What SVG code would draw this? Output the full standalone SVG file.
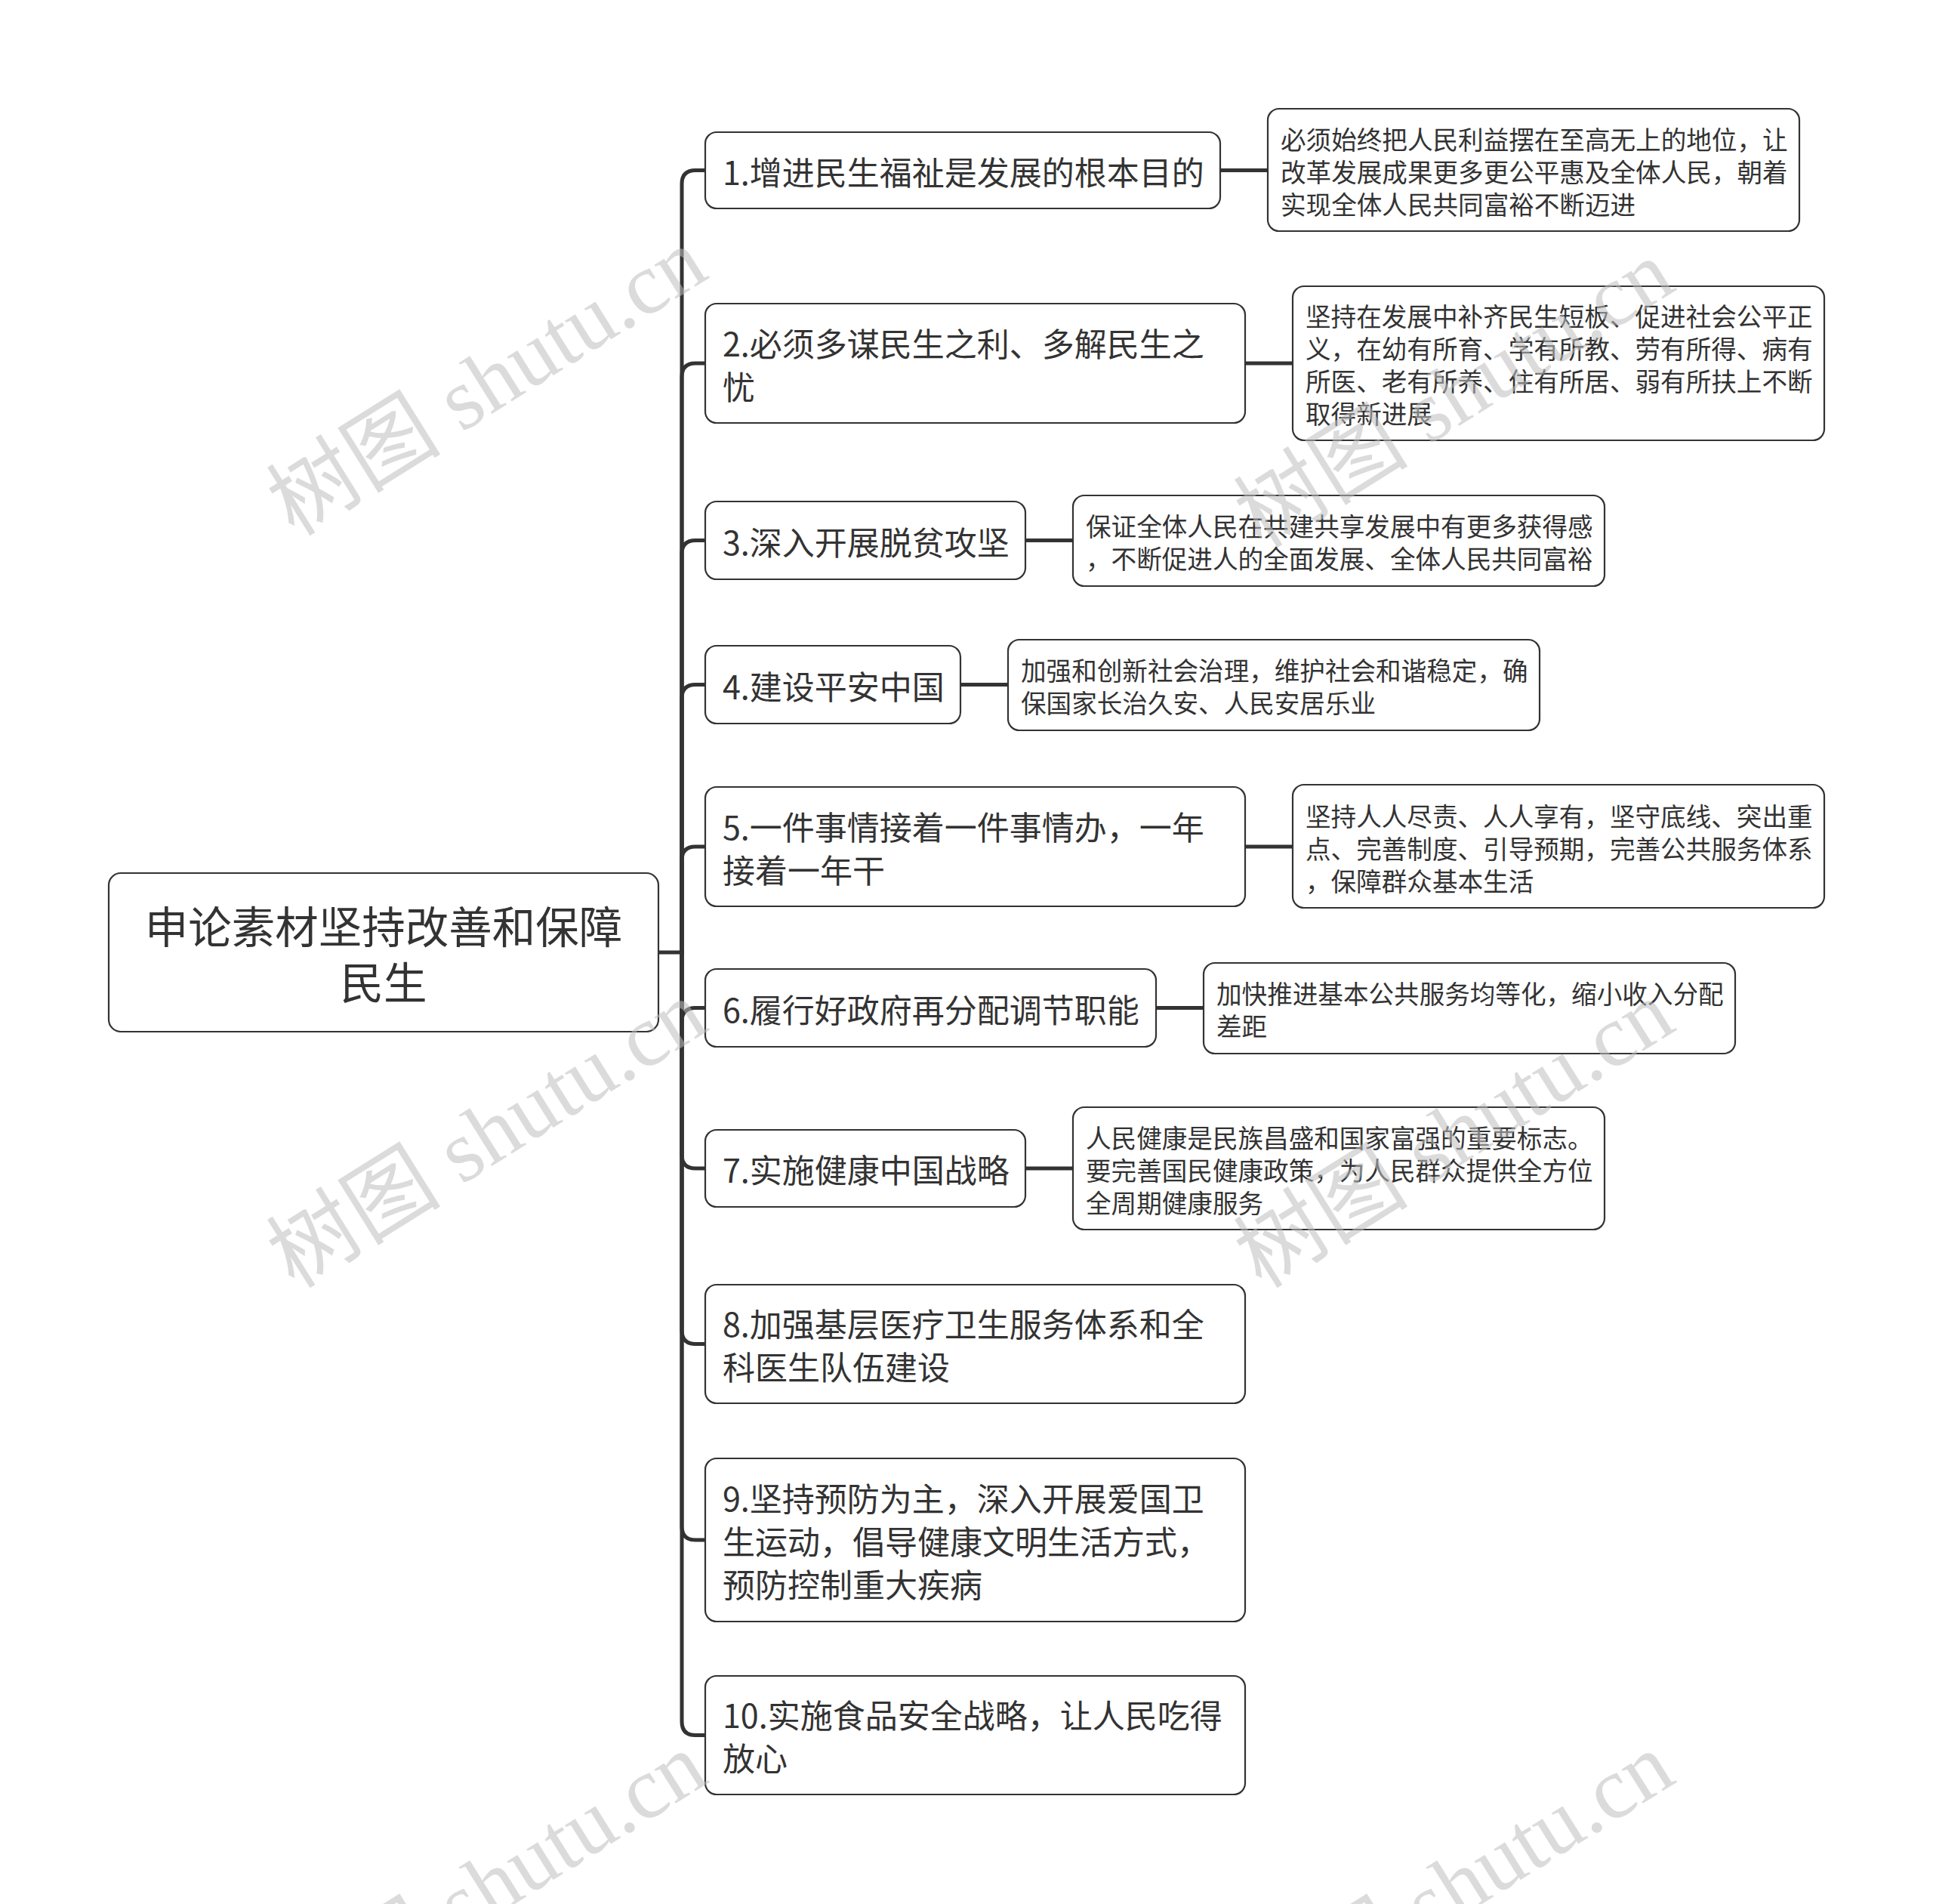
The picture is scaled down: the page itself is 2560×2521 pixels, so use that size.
<svg xmlns="http://www.w3.org/2000/svg" width="2560" height="2521" viewBox="0 0 2560 2521">
<style>
.bg{fill:#ffffff}
.box{fill:#ffffff;stroke:#333333;stroke-width:2.2}
.con{fill:none;stroke:#333333;stroke-width:5;stroke-linecap:round}
text{font-family:"Noto Sans CJK SC","Noto Sans",sans-serif;fill:#333333;dominant-baseline:central}
.root{font-size:57.5px;text-anchor:middle}
.l1{font-size:43px}
.l2{font-size:33.6px}
.wm{font-family:"Liberation Serif","Noto Sans CJK SC",serif;font-size:116px;fill:#bdbdbd;fill-opacity:0.55;text-anchor:middle;dominant-baseline:central}
</style>
<rect class="bg" x="0" y="0" width="2560" height="2521"/>
<g id="connectors">
<path class="con" d="M872 1261 H903"/>
<path class="con" d="M903 1261 V243.5 Q903 225.5 921 225.5 H934"/>
<path class="con" d="M903 1261 V499 Q903 481 921 481 H934"/>
<path class="con" d="M903 1261 V733.5 Q903 715.5 921 715.5 H934"/>
<path class="con" d="M903 1261 V924.5 Q903 906.5 921 906.5 H934"/>
<path class="con" d="M903 1261 V1139 Q903 1121 921 1121 H934"/>
<path class="con" d="M903 1261 V1352.5 Q903 1334.5 921 1334.5 H934"/>
<path class="con" d="M903 1261 V1529 Q903 1547 921 1547 H934"/>
<path class="con" d="M903 1261 V1761.5 Q903 1779.5 921 1779.5 H934"/>
<path class="con" d="M903 1261 V2021 Q903 2039 921 2039 H934"/>
<path class="con" d="M903 1261 V2279.5 Q903 2297.5 921 2297.5 H934"/>
<path class="con" d="M1616 225.5 H1679"/>
<path class="con" d="M1649 481 H1712"/>
<path class="con" d="M1358 715.5 H1421"/>
<path class="con" d="M1272 906.5 H1335"/>
<path class="con" d="M1649 1121 H1712"/>
<path class="con" d="M1531 1334.5 H1594"/>
<path class="con" d="M1358 1547 H1421"/>
</g>
<g id="root">
<rect class="box" x="144" y="1156" width="728" height="210" rx="16"/>
<text class="root" x="508" y="1224">申论素材坚持改善和保障</text>
<text class="root" x="508" y="1298">民生</text>
</g>
<g id="n1">
<rect class="box" x="934" y="175" width="682" height="101" rx="15"/>
<text class="l1" x="957" y="225.5">1.增进民生福祉是发展的根本目的</text>
</g>
<g id="n1a">
<rect class="box" x="1679" y="144" width="704" height="162" rx="15"/>
<text class="l2" x="1696" y="183">必须始终把人民利益摆在至高无上的地位，让</text>
<text class="l2" x="1696" y="226">改革发展成果更多更公平惠及全体人民，朝着</text>
<text class="l2" x="1696" y="269">实现全体人民共同富裕不断迈进</text>
</g>
<g id="n2">
<rect class="box" x="934" y="402" width="715" height="158" rx="15"/>
<text class="l1" x="957" y="453">2.必须多谋民生之利、多解民生之</text>
<text class="l1" x="957" y="510">忧</text>
</g>
<g id="n2a">
<rect class="box" x="1712" y="379" width="704" height="204" rx="15"/>
<text class="l2" x="1729" y="417">坚持在发展中补齐民生短板、促进社会公平正</text>
<text class="l2" x="1729" y="460">义，在幼有所育、学有所教、劳有所得、病有</text>
<text class="l2" x="1729" y="503">所医、老有所养、住有所居、弱有所扶上不断</text>
<text class="l2" x="1729" y="546">取得新进展</text>
</g>
<g id="n3">
<rect class="box" x="934" y="664" width="424" height="103" rx="15"/>
<text class="l1" x="957" y="715.5">3.深入开展脱贫攻坚</text>
</g>
<g id="n3a">
<rect class="box" x="1421" y="656" width="704" height="120" rx="15"/>
<text class="l2" x="1438" y="695">保证全体人民在共建共享发展中有更多获得感</text>
<text class="l2" x="1438" y="738">，不断促进人的全面发展、全体人民共同富裕</text>
</g>
<g id="n4">
<rect class="box" x="934" y="855" width="338" height="103" rx="15"/>
<text class="l1" x="957" y="906.5">4.建设平安中国</text>
</g>
<g id="n4a">
<rect class="box" x="1335" y="847" width="704" height="120" rx="15"/>
<text class="l2" x="1352" y="886">加强和创新社会治理，维护社会和谐稳定，确</text>
<text class="l2" x="1352" y="929">保国家长治久安、人民安居乐业</text>
</g>
<g id="n5">
<rect class="box" x="934" y="1042" width="715" height="158" rx="15"/>
<text class="l1" x="957" y="1093">5.一件事情接着一件事情办，一年</text>
<text class="l1" x="957" y="1150">接着一年干</text>
</g>
<g id="n5a">
<rect class="box" x="1712" y="1039" width="704" height="163" rx="15"/>
<text class="l2" x="1729" y="1079">坚持人人尽责、人人享有，坚守底线、突出重</text>
<text class="l2" x="1729" y="1122">点、完善制度、引导预期，完善公共服务体系</text>
<text class="l2" x="1729" y="1165">，保障群众基本生活</text>
</g>
<g id="n6">
<rect class="box" x="934" y="1283" width="597" height="103" rx="15"/>
<text class="l1" x="957" y="1334.5">6.履行好政府再分配调节职能</text>
</g>
<g id="n6a">
<rect class="box" x="1594" y="1275" width="704" height="120" rx="15"/>
<text class="l2" x="1611" y="1314">加快推进基本公共服务均等化，缩小收入分配</text>
<text class="l2" x="1611" y="1357">差距</text>
</g>
<g id="n7">
<rect class="box" x="934" y="1496" width="424" height="102" rx="15"/>
<text class="l1" x="957" y="1547">7.实施健康中国战略</text>
</g>
<g id="n7a">
<rect class="box" x="1421" y="1466" width="704" height="162" rx="15"/>
<text class="l2" x="1438" y="1505">人民健康是民族昌盛和国家富强的重要标志。</text>
<text class="l2" x="1438" y="1548">要完善国民健康政策，为人民群众提供全方位</text>
<text class="l2" x="1438" y="1591">全周期健康服务</text>
</g>
<g id="n8">
<rect class="box" x="934" y="1701" width="715" height="157" rx="15"/>
<text class="l1" x="957" y="1751">8.加强基层医疗卫生服务体系和全</text>
<text class="l1" x="957" y="1808">科医生队伍建设</text>
</g>
<g id="n9">
<rect class="box" x="934" y="1931" width="715" height="216" rx="15"/>
<text class="l1" x="957" y="1982">9.坚持预防为主，深入开展爱国卫</text>
<text class="l1" x="957" y="2039">生运动，倡导健康文明生活方式，</text>
<text class="l1" x="957" y="2096">预防控制重大疾病</text>
</g>
<g id="n10">
<rect class="box" x="934" y="2219" width="715" height="157" rx="15"/>
<text class="l1" x="957" y="2269">10.实施食品安全战略，让人民吃得</text>
<text class="l1" x="957" y="2326">放心</text>
</g>
<g id="watermarks">
<text class="wm" transform="translate(645 506) rotate(-32)">树图 shutu.cn</text>
<text class="wm" transform="translate(1926 522) rotate(-32)">树图 shutu.cn</text>
<text class="wm" transform="translate(645 1502) rotate(-32)">树图 shutu.cn</text>
<text class="wm" transform="translate(1926 1502) rotate(-32)">树图 shutu.cn</text>
<text class="wm" transform="translate(645 2498) rotate(-32)">树图 shutu.cn</text>
<text class="wm" transform="translate(1926 2498) rotate(-32)">树图 shutu.cn</text>
</g>
</svg>
